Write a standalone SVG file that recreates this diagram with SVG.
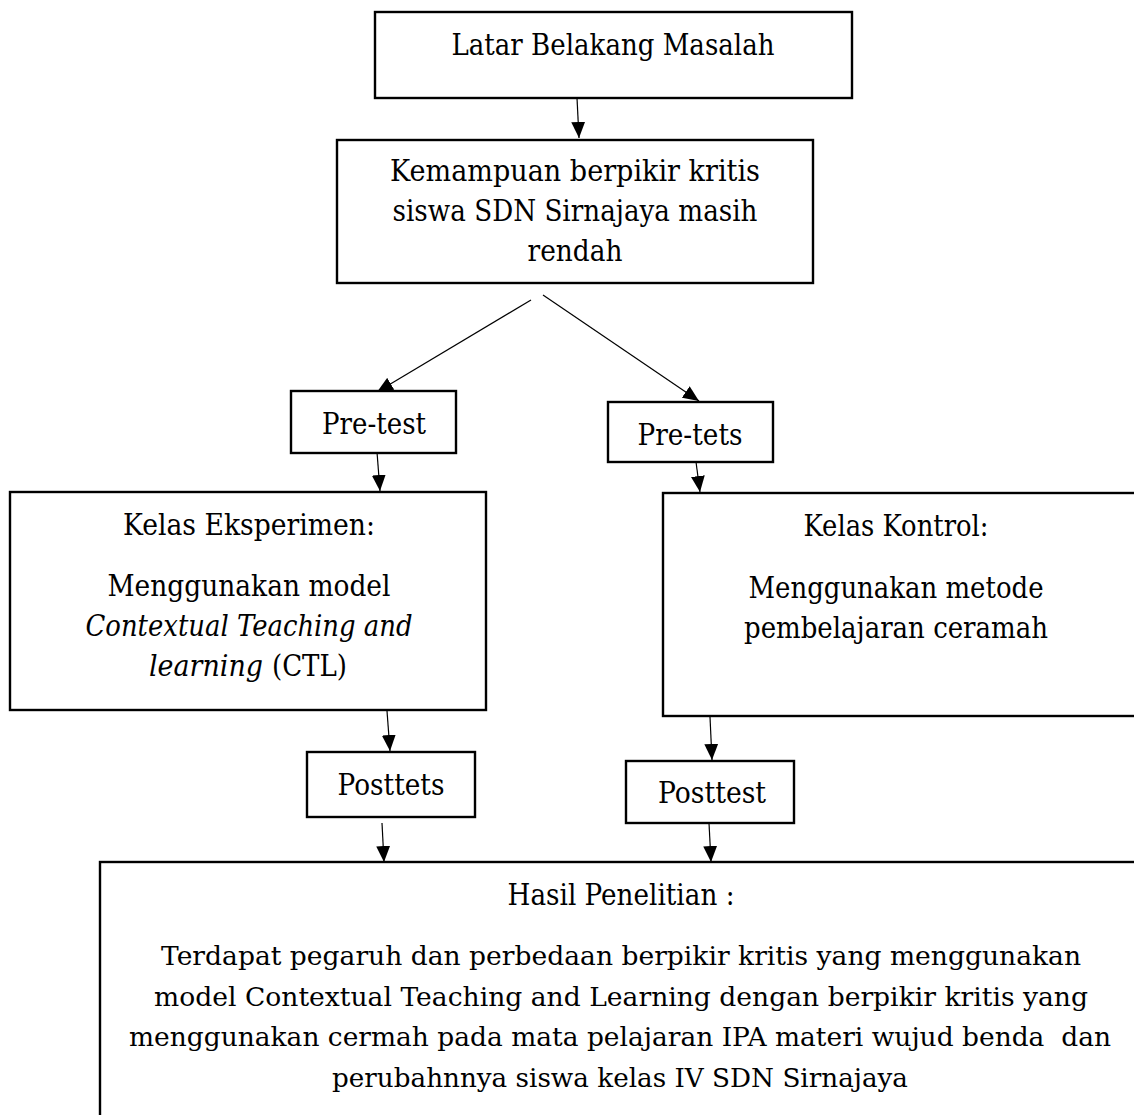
<svg xmlns="http://www.w3.org/2000/svg" width="1134" height="1115" viewBox="0 0 1134 1115">
<style>
.box{fill:#fff;stroke:#000;stroke-width:2.4}
.t{font-family:"DejaVu Serif","Liberation Serif",serif;font-size:29px;fill:#000;text-anchor:middle}
.s{text-anchor:start}
.b{font-size:26.5px}
.i{font-style:italic}
.c{stroke:#000;stroke-width:1.2;fill:none;marker-end:url(#ah)}
</style>
<defs>
<marker id="ah" markerUnits="userSpaceOnUse" markerWidth="16" markerHeight="14" viewBox="0 0 15 13" refX="15" refY="6.5" orient="auto">
<path d="M0,0 L15,6.5 L0,13 Z" fill="#000"/>
</marker>
</defs>
<rect width="1134" height="1115" fill="#fff"/>
<g id="connectors">
<line class="c" x1="577" y1="98" x2="579" y2="138"/>
<line class="c" x1="531" y1="300" x2="377" y2="392"/>
<line class="c" x1="543" y1="295" x2="699" y2="401"/>
<line class="c" x1="377" y1="452" x2="380" y2="491"/>
<line class="c" x1="696" y1="462" x2="700" y2="492"/>
<line class="c" x1="387" y1="711" x2="390" y2="751"/>
<line class="c" x1="710" y1="717" x2="712" y2="760"/>
<line class="c" x1="382" y1="823" x2="384" y2="862"/>
<line class="c" x1="709" y1="823" x2="711" y2="862"/>
</g>
<g id="latar">
<rect class="box" x="375" y="12" width="477" height="86"/>
<text class="t" x="613" y="55" textLength="323" lengthAdjust="spacingAndGlyphs">Latar Belakang Masalah</text>
</g>
<g id="kemampuan">
<rect class="box" x="337" y="140" width="476" height="143"/>
<text class="t" x="575" y="181" textLength="370" lengthAdjust="spacingAndGlyphs">Kemampuan berpikir kritis</text>
<text class="t" x="575" y="221" textLength="365" lengthAdjust="spacingAndGlyphs">siswa SDN Sirnajaya masih</text>
<text class="t" x="575" y="261" textLength="95" lengthAdjust="spacingAndGlyphs">rendah</text>
</g>
<g id="pretest">
<rect class="box" x="291" y="391" width="165" height="62"/>
<text class="t" x="374" y="434" textLength="104" lengthAdjust="spacingAndGlyphs">Pre-test</text>
</g>
<g id="pretets">
<rect class="box" x="608" y="402" width="165" height="60"/>
<text class="t" x="690" y="445" textLength="105" lengthAdjust="spacingAndGlyphs">Pre-tets</text>
</g>
<g id="eksperimen">
<rect class="box" x="10" y="492" width="476" height="218"/>
<text class="t" x="249" y="535" textLength="252" lengthAdjust="spacingAndGlyphs">Kelas Eksperimen:</text>
<text class="t" x="249" y="596" textLength="283" lengthAdjust="spacingAndGlyphs">Menggunakan model</text>
<text class="t i" x="249" y="636" textLength="327" lengthAdjust="spacingAndGlyphs">Contextual Teaching and</text>
<text class="t s i" x="149" y="676" textLength="114" lengthAdjust="spacingAndGlyphs">learning</text>
<text class="t s" x="272" y="676" textLength="75" lengthAdjust="spacingAndGlyphs">(CTL)</text>
</g>
<g id="kontrol">
<rect class="box" x="663" y="493" width="480" height="223"/>
<text class="t" x="896" y="536" textLength="185" lengthAdjust="spacingAndGlyphs">Kelas Kontrol:</text>
<text class="t" x="896" y="598" textLength="295" lengthAdjust="spacingAndGlyphs">Menggunakan metode</text>
<text class="t" x="896" y="638" textLength="304" lengthAdjust="spacingAndGlyphs">pembelajaran ceramah</text>
</g>
<g id="posttets">
<rect class="box" x="307" y="752" width="168" height="65"/>
<text class="t" x="391" y="795" textLength="107" lengthAdjust="spacingAndGlyphs">Posttets</text>
</g>
<g id="posttest">
<rect class="box" x="626" y="761" width="168" height="62"/>
<text class="t" x="712" y="803" textLength="108" lengthAdjust="spacingAndGlyphs">Posttest</text>
</g>
<g id="hasil">
<rect class="box" x="100" y="862" width="1043" height="260"/>
<text class="t" x="621" y="905" textLength="227" lengthAdjust="spacingAndGlyphs">Hasil Penelitian :</text>
<text class="t b" x="621" y="965" textLength="920" lengthAdjust="spacingAndGlyphs">Terdapat pegaruh dan perbedaan berpikir kritis yang menggunakan</text>
<text class="t b" x="621" y="1006" textLength="934" lengthAdjust="spacingAndGlyphs">model Contextual Teaching and Learning dengan berpikir kritis yang</text>
<text class="t b" x="620" y="1046" textLength="982" lengthAdjust="spacingAndGlyphs" xml:space="preserve">menggunakan cermah pada mata pelajaran IPA materi wujud benda  dan</text>
<text class="t b" x="620" y="1087" textLength="576" lengthAdjust="spacingAndGlyphs">perubahnnya siswa kelas IV SDN Sirnajaya</text>
</g>
</svg>
